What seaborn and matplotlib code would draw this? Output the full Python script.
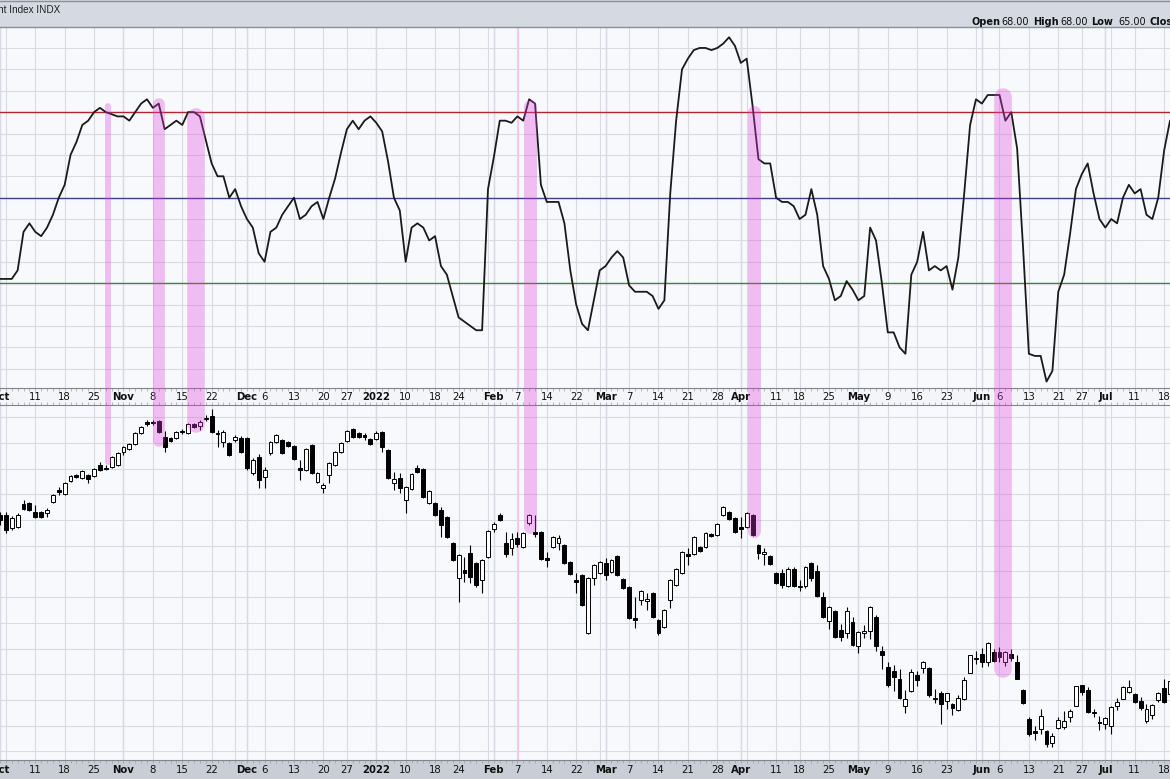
import numpy as np
import pandas as pd
import seaborn as sns
import matplotlib.pyplot as plt
from matplotlib.lines import Line2D
from matplotlib.patches import Rectangle
from matplotlib.transforms import IdentityTransform

# trading calendar (Oct 1 2021 - Jul 19 2022)
holidays = ["2021-11-25", "2021-12-24", "2022-01-17", "2022-02-21",
            "2022-04-15", "2022-05-30", "2022-06-20", "2022-07-04"]
days = pd.bdate_range("2021-10-01", "2022-07-19")
days = days[~days.isin(pd.to_datetime(holidays))]

# upper panel: percent index, one value per session
bpi = [31, 31, 31, 33, 42, 44, 42, 41, 43, 46,
       50, 53, 60, 63, 67, 68, 70, 71, 70, 69.5,
       69, 69, 68, 70, 72, 73, 71, 72, 66, 67,
       68, 67, 70, 70, 69, 63.5, 58, 55, 55, 50,
       52, 48, 45, 43, 37, 35, 42, 43, 46, 48,
       50, 45, 46, 48, 49, 45, 50, 54.5, 60.5, 66,
       68, 66, 68, 69, 67.5, 65.5, 58.5, 50, 47, 35,
       43, 44, 43, 40, 41, 34, 32, 27, 22, 21,
       20, 19, 19, 52, 59.5, 68, 68, 67.5, 69, 68,
       73, 72, 53, 49, 49, 49, 44, 33, 25, 20.5,
       19, 26, 33, 34, 36, 37.5, 36, 29.5, 28, 28,
       28, 27, 24, 26, 51, 68, 80, 82.5, 84.5, 85,
       85, 84.5, 85, 86, 87.5, 85.5, 81.5, 82.5, 71.5, 59,
       58, 58, 50, 49, 49, 48, 45, 46, 52, 46,
       34, 31, 26, 27, 30.5, 28.5, 26, 27, 43, 40,
       30, 18.5, 18.5, 15, 13.5, 32, 35, 42, 33, 34,
       33, 34, 28.5, 36, 51, 67, 73, 72, 74, 74,
       74, 68, 70, 61.5, 38.5, 13.5, 13, 13, 7, 9.5,
       28, 32, 41.5, 52, 55.5, 58, 51, 45, 43, 45,
       44, 50, 53, 51, 52, 46, 45, 50, 61, 68]

# lower panel: daily candles
opens = [15138, 15138, 14910, 14928, 15330, 15348, 15190, 15190, 15172, 15365,
         15575, 15505, 15732, 15838, 15785, 15838, 15820, 16012, 15960, 15978,
         16012, 16240, 16292, 16380, 16572, 16765, 16765, 16782, 16502, 16485,
         16485, 16608, 16572, 16730, 16695, 16835, 16870, 16572, 16415, 16398,
         16450, 16485, 16485, 15872, 16152, 15802, 16222, 16415, 16450, 16415,
         16345, 15960, 15925, 16362, 15715, 15610, 15838, 16012, 16240, 16432,
         16642, 16572, 16538, 16468, 16468, 16590, 16275, 15698, 15785, 15400,
         15592, 15960, 15942, 15348, 15348, 15225, 15102, 14648, 14035, 14175,
         14472, 14298, 14000, 14402, 14892, 15138, 14648, 14560, 14735, 14578,
         14998, 14840, 14840, 14385, 14578, 14648, 14612, 14315, 14000, 14088,
         13072, 14035, 14122, 14298, 14140, 14420, 14018, 13878, 13335, 13650,
         13632, 13772, 13300, 13178, 13650, 13912, 14122, 14455, 14455, 14578,
         14578, 14805, 14788, 15138, 15190, 15085, 14928, 14928, 15138, 14612,
         14455, 14420, 14122, 14120, 13900, 14200, 13880, 13890, 14300, 14150,
         13710, 13280, 13450, 13120, 13080, 13260, 12850, 13070, 13110, 13350,
         12760, 12480, 12410, 12260, 11800, 12050, 12340, 12460, 12460, 11920,
         12030, 11880, 11830, 11720, 11920, 12380, 12620, 12710, 12560, 12740,
         12740, 12570, 12700, 12560, 12080, 11570, 11360, 11400, 11360, 11150,
         11410, 11420, 11600, 11800, 12160, 12070, 11680, 11520, 11480, 11440,
         11800, 11920, 12040, 12010, 11880, 11530, 11630, 11900, 12110, 12000]
closes = [15050, 14875, 15085, 15138, 15242, 15225, 15102, 15102, 15225, 15488,
          15540, 15698, 15820, 15802, 15908, 15768, 15942, 15925, 15942, 16152,
          16222, 16328, 16380, 16572, 16678, 16730, 16748, 16590, 16328, 16432,
          16590, 16590, 16730, 16678, 16765, 16818, 16590, 16555, 16590, 16188,
          16502, 16240, 15960, 16100, 15750, 15925, 16415, 16538, 16222, 16345,
          16118, 15925, 16292, 15872, 15872, 15662, 16048, 16240, 16398, 16608,
          16502, 16502, 16502, 16380, 16572, 16328, 15785, 15768, 15610, 15628,
          15855, 15890, 15452, 15558, 15138, 14962, 14752, 14350, 14438, 14122,
          14052, 13912, 14350, 14858, 14980, 15050, 14455, 14718, 14630, 14822,
          15138, 14805, 14368, 14350, 14752, 14735, 14298, 14105, 13965, 13562,
          14035, 14262, 14315, 14088, 14350, 14088, 13860, 13335, 13300, 13808,
          13668, 13352, 13072, 13475, 14000, 14192, 14490, 14420, 14752, 14508,
          14822, 14770, 14980, 15278, 15068, 14840, 14892, 15172, 14788, 14472,
          14490, 14280, 13948, 13906, 14191, 13898, 13895, 14224, 14037, 13726,
          13357, 13531, 12998, 12997, 13452, 12855, 13089, 13115, 13528, 12845,
          12685, 12156, 12298, 11928, 11919, 12387, 12254, 12569, 11984, 11930,
          11835, 12017, 11752, 11927, 12258, 12682, 12642, 12563, 12903, 12586,
          12648, 12732, 12629, 12273, 11848, 11305, 11327, 11628, 11133, 11264,
          11553, 11536, 11702, 12143, 12046, 11687, 11668, 11504, 11585, 11781,
          11862, 12125, 12126, 11860, 11752, 11739, 11808, 12023, 11870, 12228]
highs = [15190, 15190, 15120, 15172, 15400, 15365, 15312, 15208, 15260, 15505,
         15628, 15715, 15838, 15855, 15925, 15855, 15960, 16065, 16012, 16170,
         16240, 16345, 16398, 16590, 16695, 16800, 16800, 16800, 16608, 16502,
         16608, 16642, 16748, 16748, 16800, 16888, 16992, 16625, 16625, 16415,
         16538, 16520, 16502, 16135, 16205, 15978, 16432, 16555, 16468, 16432,
         16362, 16100, 16310, 16380, 15890, 15698, 16065, 16258, 16415, 16625,
         16660, 16590, 16572, 16485, 16608, 16608, 16292, 15890, 15872, 15645,
         15872, 16012, 15960, 15575, 15365, 15278, 15120, 14665, 14455, 14402,
         14612, 14315, 14368, 14875, 15015, 15172, 14840, 14822, 14840, 14840,
         15155, 15138, 14858, 14490, 14770, 14788, 14630, 14332, 14122, 14105,
         14052, 14280, 14332, 14385, 14368, 14438, 14035, 13895, 13702, 13825,
         13772, 13790, 13318, 13492, 14018, 14210, 14508, 14560, 14770, 14595,
         14840, 14822, 14998, 15295, 15208, 15102, 15102, 15190, 15155, 14630,
         14560, 14438, 14140, 14200, 14230, 14220, 14000, 14250, 14310, 14270,
         13790, 13540, 13470, 13230, 13530, 13360, 13100, 13210, 13540, 13380,
         12850, 12560, 12520, 12440, 12080, 12440, 12400, 12580, 12470, 12100,
         12060, 12030, 11840, 11980, 12310, 12690, 12750, 12810, 12910, 12800,
         12830, 12750, 12800, 12680, 12090, 11600, 11440, 11750, 11370, 11330,
         11600, 11700, 11740, 12150, 12170, 12130, 11750, 11620, 11600, 11790,
         11930, 12140, 12250, 12030, 11960, 11830, 11830, 12040, 12260, 12230]
lows = [14962, 14822, 14875, 14910, 15225, 15208, 15085, 15085, 15102, 15348,
        15488, 15488, 15715, 15785, 15768, 15698, 15802, 15908, 15925, 15960,
        15995, 16188, 16275, 16362, 16555, 16695, 16712, 16572, 16240, 16415,
        16468, 16555, 16555, 16660, 16625, 16782, 16572, 16328, 16328, 16170,
        16415, 16222, 15925, 15838, 15610, 15610, 16188, 16398, 16205, 16328,
        16100, 15750, 15908, 15855, 15698, 15522, 15698, 15995, 16222, 16415,
        16485, 16485, 16450, 16362, 16450, 16240, 15768, 15575, 15522, 15172,
        15575, 15872, 15435, 15330, 15120, 14752, 14735, 14332, 13615, 13965,
        13948, 13878, 13772, 14385, 14840, 15032, 14402, 14438, 14578, 14560,
        14962, 14752, 14350, 14228, 14560, 14525, 14280, 14088, 13772, 13545,
        13055, 13912, 14105, 14000, 14122, 14070, 13842, 13318, 13160, 13562,
        13475, 13335, 13038, 13160, 13510, 13895, 14105, 14262, 14438, 14490,
        14560, 14752, 14770, 15120, 15050, 14822, 14735, 14910, 14770, 14368,
        14262, 14262, 13930, 13860, 13870, 13880, 13810, 13860, 13990, 13700,
        13340, 13150, 12990, 12930, 12990, 12840, 12730, 12990, 12970, 12750,
        12450, 12120, 12050, 11920, 11680, 12040, 12140, 12370, 11960, 11840,
        11480, 11750, 11630, 11700, 11900, 12370, 12530, 12480, 12500, 12560,
        12560, 12500, 12590, 12270, 11830, 11270, 11200, 11300, 11070, 11070,
        11400, 11400, 11520, 11790, 11990, 11680, 11600, 11380, 11390, 11300,
        11730, 11910, 12020, 11840, 11720, 11500, 11560, 11860, 11840, 11960]

# signal highlights: session position, width in sessions, top (index units), bottom (price)
hl_center = [18.35, 27.0, 33.4, 90.1, 128.2, 170.6]
hl_width = [1.0, 2.0, 3.0, 2.2, 2.2, 3.0]
hl_top = [72.1, 73.3, 70.9, 73.0, 71.6, 75.6]
hl_bottom = [16012, 16328, 16572, 14822, 14752, 12285]

levels = [70, 50, 30]
level_colors = ["#b3262b", "#3b3f96", "#2f8a3a"]

W, H = 1170, 779
sns.set_style("white")
plt.rcParams["font.family"] = ["DejaVu Sans"]

df = pd.DataFrame({"date": days, "bpi": bpi, "open": opens, "high": highs,
                   "low": lows, "close": closes})
df["x"] = np.arange(len(df))

fig = plt.figure(figsize=(W / 100, H / 100), dpi=100)
fig.patch.set_facecolor("white")


def fy(px):
    return 1 - px / H


ax_top = fig.add_axes([0, fy(388), 1, (388 - 27) / H])
ax_bot = fig.add_axes([0, fy(760), 1, (760 - 405) / H])

# header + bands (drawn below the axes)
fig.patches.append(Rectangle((0, fy(27)), 1, 27 / H, transform=fig.transFigure,
                             facecolor="#d5d9e1", edgecolor="none", zorder=-2))
fig.patches.append(Rectangle((0, fy(405)), 1, 17 / H, transform=fig.transFigure,
                             facecolor="#f4f5f8", edgecolor="none", zorder=-2))
fig.patches.append(Rectangle((0, 0), 1, 19 / H, transform=fig.transFigure,
                             facecolor="#c9cdd5", edgecolor="none", zorder=-2))
fig.add_artist(Line2D([0, 1], [fy(27), fy(27)], transform=fig.transFigure,
                      color="#8a8e96", lw=1))
fig.add_artist(Line2D([0, 1], [fy(0.5), fy(0.5)], transform=fig.transFigure,
                      color="#8a8e96", lw=1))

week_first = [i for i in range(len(days)) if i == 0 or
              days[i].isocalendar()[1] != days[i - 1].isocalendar()[1]]
month_first = [i for i in range(len(days)) if i == 0 or days[i].month != days[i - 1].month]
grid_x = sorted(set(week_first) | set(month_first))

xmin, xmax = 0.58, 198.7
for ax in (ax_top, ax_bot):
    ax.set_facecolor("#f8f9fc")
    ax.set_xlim(xmin, xmax)
    ax.set_xticks(grid_x)
    ax.set_xticks(df["x"], minor=True)
    ax.set_xticklabels([])
    ax.grid(True, which="major", color="#d8dbe2", lw=0.8)
    ax.set_axisbelow(True)
    for m in month_first:
        ax.axvline(m, color="#c4c8d0", lw=0.9, zorder=0.5)
    ax.axvline(88.1, color="#f6c4f2", lw=0.9, zorder=0.6)
    for s in ("left", "right"):
        ax.spines[s].set_visible(False)
    for s in ("top", "bottom"):
        ax.spines[s].set_color("#80848c")
    ax.tick_params(axis="y", left=False, labelleft=False)
    ax.tick_params(axis="x", which="both", direction="out", length=2.0,
                   color="#9a9ea6", width=0.5, top=(ax is ax_bot), bottom=True)

# upper panel
ax_top.set_ylim(5.5, 89.9)
ax_top.set_yticks(np.arange(10, 90, 5))
ax_top.spines["top"].set_visible(False)
for lv, c in zip(levels, level_colors):
    ax_top.axhline(lv, color=c, lw=1.0, zorder=1)
sns.lineplot(data=df, x="x", y="bpi", ax=ax_top, color="#1a1a1a", lw=1.3, zorder=3)
ax_top.set_xlabel("")
ax_top.set_ylabel("")

# lower panel candles
ax_bot.set_ylim(10850, 17062)
ax_bot.set_yticks(np.arange(11000, 17000, 450))
up = df["close"] >= df["open"]
body_lo = np.minimum(df["open"], df["close"])
body_h = np.maximum((df["close"] - df["open"]).abs(), 18)
ax_bot.vlines(df["x"], df["low"], df["high"], color="black", lw=0.8, zorder=2)
ax_bot.bar(df["x"][up], body_h[up], bottom=body_lo[up], width=0.66,
           color="white", edgecolor="black", lw=0.7, zorder=3)
ax_bot.bar(df["x"][~up], body_h[~up], bottom=body_lo[~up], width=0.66,
           color="black", edgecolor="black", lw=0.7, zorder=3)
ax_bot.set_xlabel("")
ax_bot.set_ylabel("")

# date labels
labels = []
for m in month_first:
    d = days[m]
    labels.append((m, str(d.year) if d.month == 1 else d.strftime("%b"), "bold"))
for w in week_first:
    if min(abs(w - m) for m in month_first) > 2:
        labels.append((w, str(days[w].day), "normal"))
for xi, txt, wt in labels:
    ax_top.text(xi, -9 / 361, txt, transform=ax_top.get_xaxis_transform(),
                ha="center", va="center", fontsize=7.3, weight=wt, color="#111111",
                clip_on=False, zorder=5)
    ax_bot.text(xi, -10 / 355, txt, transform=ax_bot.get_xaxis_transform(),
                ha="center", va="center", fontsize=7.3, weight=wt, color="#111111",
                clip_on=False, zorder=5)

# header texts
fig.text(60 / W, fy(10), "$BPNDX Nasdaq 100 Bullish Percent Index INDX",
         ha="right", va="center", fontsize=7.2, color="#222222",
         family=["Liberation Sans", "DejaVu Sans"])
for px, txt, wt in [(971, "Open", "bold"), (1001, "68.00", "normal"),
                    (1033, "High", "bold"), (1060, "68.00", "normal"),
                    (1091, "Low", "bold"), (1118, "65.00", "normal"),
                    (1150, "Close", "bold"), (1182, "68.00", "normal")]:
    fig.text(px / W, fy(22), txt, ha="left", va="center", fontsize=7,
             weight=wt, color="#111111")

# pink signal bars across both panels
fig.canvas.draw()
px_per_day = (ax_bot.transData.transform((1, 0))[0] -
              ax_bot.transData.transform((0, 0))[0])
for xc, wd, top, bot in zip(hl_center, hl_width, hl_top, hl_bottom):
    x0, y0 = ax_top.transData.transform((xc, top))
    _, y1 = ax_bot.transData.transform((xc, bot))
    wpx = wd * px_per_day
    fig.add_artist(Line2D([x0, x0], [y0 - wpx / 2, y1 + wpx / 2],
                          transform=IdentityTransform(), lw=wpx * 0.72,
                          color="#e23fe0", alpha=0.32, solid_capstyle="round",
                          zorder=10))

fig.savefig("out.png", dpi=100)
